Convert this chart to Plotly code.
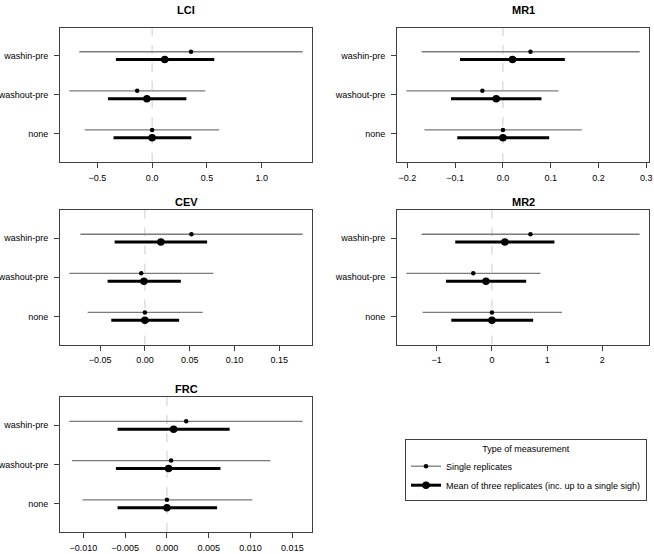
import plotly.graph_objects as go

W, H = 654, 554

categories = ["washin-pre", "washout-pre", "none"]
cat_pos = [3, 2, 1]

panel_names = ["LCI", "MR1", "CEV", "MR2", "FRC"]

# Single replicates / mean of three: estimate, lower, upper
lci_single_est = [0.355, -0.136, 0.0]
lci_single_lo = [-0.664, -0.755, -0.615]
lci_single_hi = [1.373, 0.485, 0.612]
lci_mean_est = [0.115, -0.048, 0.0]
lci_mean_lo = [-0.330, -0.403, -0.352]
lci_mean_hi = [0.567, 0.312, 0.358]

mr1_single_est = [0.0577, -0.043, 0.0]
mr1_single_lo = [-0.170, -0.202, -0.164]
mr1_single_hi = [0.286, 0.116, 0.165]
mr1_mean_est = [0.020, -0.014, 0.0]
mr1_mean_lo = [-0.0898, -0.1086, -0.0955]
mr1_mean_hi = [0.1295, 0.0806, 0.0967]

cev_single_est = [0.0519, -0.0041, 0.0]
cev_single_lo = [-0.0720, -0.0843, -0.0639]
cev_single_hi = [0.1760, 0.0764, 0.0646]
cev_mean_est = [0.0178, -0.0011, 0.0]
cev_mean_lo = [-0.0338, -0.0416, -0.0375]
cev_mean_hi = [0.0694, 0.0401, 0.0382]

mr2_single_est = [0.698, -0.338, 0.0]
mr2_single_lo = [-1.273, -1.550, -1.255]
mr2_single_hi = [2.676, 0.879, 1.271]
mr2_mean_est = [0.235, -0.108, 0.0]
mr2_mean_lo = [-0.664, -0.832, -0.736]
mr2_mean_hi = [1.132, 0.620, 0.747]

frc_single_est = [0.0023, 0.0005, 0.0]
frc_single_lo = [-0.01167, -0.01136, -0.0101]
frc_single_hi = [0.01623, 0.01238, 0.0102]
frc_mean_est = [0.0008, 0.0002, 0.0]
frc_mean_lo = [-0.0059, -0.0061, -0.0059]
frc_mean_hi = [0.0075, 0.0064, 0.0060]

panel_data = {
    "LCI": (lci_single_est, lci_single_lo, lci_single_hi, lci_mean_est, lci_mean_lo, lci_mean_hi),
    "MR1": (mr1_single_est, mr1_single_lo, mr1_single_hi, mr1_mean_est, mr1_mean_lo, mr1_mean_hi),
    "CEV": (cev_single_est, cev_single_lo, cev_single_hi, cev_mean_est, cev_mean_lo, cev_mean_hi),
    "MR2": (mr2_single_est, mr2_single_lo, mr2_single_hi, mr2_mean_est, mr2_mean_lo, mr2_mean_hi),
    "FRC": (frc_single_est, frc_single_lo, frc_single_hi, frc_mean_est, frc_mean_lo, frc_mean_hi),
}
tick_steps = {"LCI": 0.5, "MR1": 0.1, "CEV": 0.05, "MR2": 1, "FRC": 0.005}
tick_formats = {"LCI": ".1f", "MR1": ".1f", "CEV": ".2f", "MR2": ".0f", "FRC": ".3f"}

legend_labels = ["Single replicates", "Mean of three replicates (inc. up to a single sigh)"]
legend_title = "Type of measurement"

# layout (pixel boxes: left, right, top, bottom, title y)
boxes = {
    "LCI": (60, 312, 27.5, 162, 10),
    "MR1": (397, 649, 27.5, 162, 10),
    "CEV": (60, 312, 210, 344.5, 201.5),
    "MR2": (397, 649, 210, 344.5, 201.5),
    "FRC": (60, 312, 397, 532, 388.5),
}

FONT = "Liberation Sans, Arial, Helvetica, sans-serif"
OFF = 0.1
fig = go.Figure()
layout = {}
shapes = []
annotations = []

for i, name in enumerate(panel_names):
    idx = "" if i == 0 else str(i + 1)
    xa, ya = "x" + idx, "y" + idx
    s_est, s_lo, s_hi, m_est, m_lo, m_hi = panel_data[name]

    for est, lo, hi, off, color, lw, ms in [
        (s_est, s_lo, s_hi, OFF, "#7a7a7a", 1.3, 4.5),
        (m_est, m_lo, m_hi, -OFF, "black", 3, 7.5),
    ]:
        xs, ys = [], []
        for p, a, b in zip(cat_pos, lo, hi):
            xs += [a, b, None]
            ys += [p + off, p + off, None]
        fig.add_trace(go.Scatter(x=xs, y=ys, mode="lines", line=dict(color=color, width=lw),
                                 xaxis=xa, yaxis=ya, showlegend=False, hoverinfo="skip"))
        fig.add_trace(go.Scatter(x=est, y=[p + off for p in cat_pos], mode="markers",
                                 marker=dict(color="black", size=ms), xaxis=xa, yaxis=ya,
                                 showlegend=False))

    lo_all = min(s_lo + m_lo)
    hi_all = max(s_hi + m_hi)
    span = hi_all - lo_all
    xr = [lo_all - 0.04 * span, hi_all + 0.04 * span]
    l, r, t, b, ty = boxes[name]
    common = dict(showline=True, mirror=True, linecolor="#404040", linewidth=1,
                  ticks="outside", ticklen=5, tickcolor="#404040", tickwidth=1,
                  showgrid=False, zeroline=False, automargin=False,
                  tickfont=dict(family=FONT, size=9, color="black"))
    layout["xaxis" + idx] = dict(domain=[l / W, r / W], range=xr, anchor=ya,
                                 dtick=tick_steps[name], tick0=0, ticklabelstandoff=2,
                                 tickformat=tick_formats[name], **common)
    layout["yaxis" + idx] = dict(domain=[1 - b / H, 1 - t / H], range=[0.28, 3.72], anchor=xa,
                                 tickmode="array", tickvals=cat_pos, ticktext=categories,
                                 ticklabelstandoff=4, **common)
    shapes.append(dict(type="line", xref=xa, yref=ya + " domain", x0=0, x1=0, y0=0, y1=1,
                       line=dict(color="#cccccc", width=1, dash="dash"), layer="below"))
    annotations.append(dict(text="<b>%s</b>" % name, x=(l + r) / 2 / W, y=1 - ty / H,
                            xref="paper", yref="paper", showarrow=False,
                            xanchor="center", yanchor="middle",
                            font=dict(family=FONT, size=11, color="black")))

# legend entries
fig.add_trace(go.Scatter(x=[None], y=[None], mode="lines+markers", name=legend_labels[0],
                         line=dict(color="#7a7a7a", width=1.3),
                         marker=dict(color="black", size=4.5)))
fig.add_trace(go.Scatter(x=[None], y=[None], mode="lines+markers", name=legend_labels[1],
                         line=dict(color="black", width=3),
                         marker=dict(color="black", size=7.5)))

fig.update_layout(
    width=W, height=H, autosize=False,
    margin=dict(l=0, r=0, t=0, b=0, pad=0, autoexpand=False),
    paper_bgcolor="white", plot_bgcolor="white",
    shapes=shapes, annotations=annotations,
    showlegend=True, hovermode=False,
    legend=dict(x=405 / W, y=1 - 439 / H, xanchor="left", yanchor="top",
                bordercolor="#404040", borderwidth=1, bgcolor="white",
                font=dict(family=FONT, size=9, color="black"),
                title=dict(text=legend_title, side="top center",
                           font=dict(family=FONT, size=9, color="black")),
                tracegroupgap=0, itemwidth=30),
    **layout,
)

fig.write_html("out.html", config={"displayModeBar": False},
               post_script="document.body.style.margin='0px';document.body.style.overflow='hidden';")
